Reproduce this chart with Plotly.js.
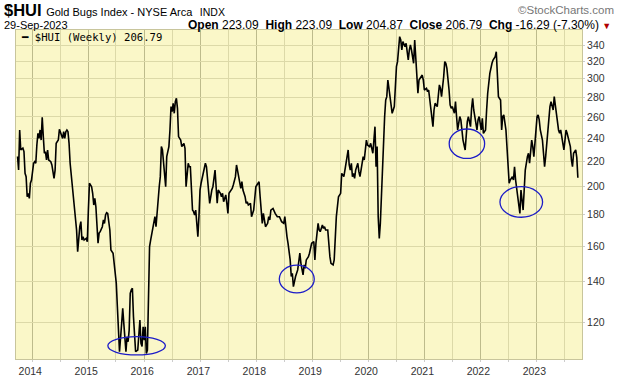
<!DOCTYPE html>
<html>
<head>
<meta charset="utf-8">
<script src="https://cdn.plot.ly/plotly-3.0.1.min.js"></script>
<style>
html,body{margin:0;padding:0;background:#fff;}
#chart{width:620px;height:376px;}
</style>
</head>
<body>
<div id="chart"></div>
<script>
// Weekly closes of $HUI, indexed by week number since the first bar (27-Sep-2013)
const startDate = '2013-09-27';
const weekNo = [0,1,2,3,5,6,7,8,9,10,11,12,13,15,16,17,18,19,20,21,22,23,24,25,26,27,28,29,31,32,34,35,36,38,39,41,42,43,44,45,46,47,48,49,51,52,53,54,55,56,57,58,59,60,61,62,64,65,66,67,69,70,71,72,73,75,76,77,79,80,81,82,83,84,86,87,89,90,92,93,94,95,97,98,99,100,101,102,103,104,105,106,107,108,109,110,112,113,114,115,116,117,118,119,120,121,122,123,124,125,126,127,128,129,130,131,132,133,134,135,136,137,138,139,140,141,142,143,144,145,146,147,148,149,150,152,153,154,155,156,157,159,160,161,162,163,164,165,166,167,168,169,170,171,173,175,176,178,179,181,182,184,185,186,187,189,190,191,192,194,195,196,197,198,200,201,203,204,205,207,208,209,210,212,213,214,215,217,218,220,221,222,223,225,226,227,228,229,230,231,233,234,235,236,238,239,240,242,244,246,248,249,250,251,252,254,255,256,257,258,259,261,262,263,264,266,267,268,269,271,272,273,274,276,277,278,279,280,281,282,284,285,286,287,289,290,291,292,294,295,296,297,299,300,301,302,304,305,306,307,308,309,310,311,312,313,314,315,317,318,319,320,322,323,324,325,326,328,329,330,331,332,333,334,335,336,337,338,339,340,341,342,343,344,345,346,347,348,349,351,352,353,354,355,356,357,358,359,360,361,362,364,365,366,367,369,370,371,372,373,374,376,377,378,379,381,382,383,384,386,387,388,389,391,392,393,394,395,397,398,399,400,402,403,404,405,407,408,409,410,412,413,414,415,417,418,419,420,422,423,424,425,427,428,429,430,432,433,434,436,437,438,440,441,442,443,445,446,447,448,450,451,452,453,455,456,457,458,459,461,462,463,464,466,467,468,469,470,471,472,473,475,476,477,479,480,481,482,484,485,486,487,489,490,491,492,494,495,496,497,499,500,501,502,504,505,506,507,509,510,511,512,514,515,516,517,518,520,521,522];
const hui = [224.0,212.9,247.5,229.6,231.1,228.2,210.3,207.7,192.6,195.1,191.4,202.6,205.1,218.4,219.7,218.4,233.9,244.4,239.8,247.5,238.3,259.6,241.4,226.8,228.2,221.1,229.6,221.1,219.7,217.0,206.4,212.9,235.4,238.3,248.1,242.9,239.8,245.9,239.8,245.9,247.5,245.9,235.4,218.4,202.6,190.2,187.8,180.9,170.0,156.7,165.8,172.1,175.4,163.7,165.8,163.7,164.7,162.7,183.2,202.6,200.0,195.1,186.7,191.4,185.5,161.7,168.0,168.9,172.1,176.5,174.2,179.8,181.4,180.9,170.0,157.7,155.8,150.0,139.1,127.5,116.7,107.6,119.7,126.7,119.7,111.0,107.6,113.8,111.7,116.7,134.0,135.7,136.6,122.8,112.4,107.6,108.3,116.7,121.2,111.0,109.7,118.2,112.4,118.2,106.9,108.3,132.4,159.7,163.7,167.9,172.1,175.4,178.7,172.1,180.9,195.1,200.0,207.7,232.5,229.6,221.1,212.9,200.0,223.9,229.6,232.5,247.5,270.2,265.2,273.6,263.5,275.3,278.7,268.5,241.4,238.3,232.5,233.9,235.4,231.0,200.0,218.4,215.6,215.6,200.0,183.2,182.1,179.8,183.2,174.3,165.8,178.7,197.5,202.6,210.3,218.4,215.6,200.0,187.9,197.5,200.0,212.9,200.0,187.9,197.5,195.1,192.6,195.1,189.0,193.9,187.9,180.9,195.1,196.3,198.7,201.3,207.7,217.0,212.9,202.6,198.7,203.8,197.5,192.6,187.9,189.0,186.7,187.9,178.7,183.2,192.6,200.0,201.3,203.8,192.6,178.7,174.3,180.9,175.4,172.1,174.3,178.7,176.5,183.2,184.3,182.1,180.9,178.7,178.7,175.4,174.3,178.7,171.0,165.8,161.7,151.9,142.7,144.5,137.4,140.9,142.7,146.3,150.0,155.8,150.0,143.6,149.1,147.2,151.9,153.8,155.8,158.7,161.7,162.7,151.9,161.7,170.0,174.3,170.0,168.9,173.2,171.0,172.1,170.0,170.0,160.7,153.8,150.0,149.1,151.9,165.8,178.7,192.6,193.9,195.1,210.3,207.7,212.9,219.7,223.9,229.6,217.0,212.9,218.4,207.7,210.3,206.4,212.9,218.4,211.6,207.7,212.9,223.9,221.1,228.2,238.3,233.9,232.5,235.4,231.0,226.8,238.3,250.6,215.6,232.5,178.7,164.7,174.3,195.1,212.9,235.4,260.3,277.0,280.5,298.6,287.6,280.0,266.8,263.5,270.2,294.9,313.9,319.9,342.7,351.4,347.0,334.2,344.9,340.6,338.4,342.7,321.9,334.2,340.6,334.2,317.9,347.0,326.0,310.0,284.1,298.6,302.3,304.2,298.6,287.6,289.4,285.8,287.6,277.0,263.5,250.6,266.8,273.6,270.2,282.2,293.1,289.4,280.5,302.3,319.9,317.9,311.9,287.6,271.9,268.5,270.2,263.5,275.3,260.3,247.5,260.3,257.0,247.5,238.3,229.6,244.4,255.4,260.3,250.6,268.5,278.7,266.8,250.6,247.5,257.0,260.3,247.5,258.6,244.4,247.5,266.8,284.1,306.2,313.9,317.9,321.9,326.0,332.1,306.2,280.5,277.0,247.5,260.3,261.9,247.5,232.5,215.6,202.6,205.1,207.7,205.1,215.6,205.1,192.6,190.2,180.9,197.5,187.9,183.2,197.5,212.9,223.9,226.8,218.4,238.3,232.5,223.9,235.4,260.3,261.9,257.0,247.5,238.3,226.8,215.6,223.9,250.6,260.3,270.2,275.3,266.8,280.5,273.6,263.5,247.5,244.4,247.5,241.4,229.6,238.3,247.5,244.4,235.4,232.5,221.1,215.6,226.8,229.6,223.08,206.79];
const yTicks = [120,140,160,180,200,220,240,260,280,300,320,340];
// Circled lows: [start date, end date, low value, high value]
const circles = [
  ['2015-05-09','2016-05-18',106.3,113.9],
  ['2018-05-31','2019-01-14',134.2,149.0],
  ['2021-06-12','2022-01-29',222.4,248.4],
  ['2022-05-09','2023-02-11',178.3,200.0]
];

const t0 = Date.parse(startDate + 'T00:00:00Z');
const dates = weekNo.map(w => new Date(t0 + w*7*86400000).toISOString().slice(0,10));

const trace = {
  x: dates, y: hui, type: 'scatter', mode: 'lines',
  line: {color: '#000000', width: 1.6},
  hoverinfo: 'x+y', showlegend: false
};

const W = 620, H = 376, L = 16, R = 38, T = 30, B = 17;
const pw = W - L - R, ph = H - T - B;
const px = v => (v - L) / pw;
const py = v => (H - B - v) / ph;
const F = 'Liberation Sans, Arial, sans-serif';

const annotations = [
  {xref:'paper', yref:'paper', x:px(2), y:py(10), xanchor:'left', yanchor:'middle', showarrow:false,
   text:'<b>$HUI</b> <span style="font-size:11px">Gold Bugs Index - NYSE Arca</span> <span style="font-size:10.5px">\u00a0INDX</span>',
   font:{family:F, size:16.5, color:'#000'}},
  {xref:'paper', yref:'paper', x:px(616), y:py(10), xanchor:'right', yanchor:'middle', showarrow:false,
   text:'\u00a9StockCharts.com', font:{family:F, size:11.5, color:'#777'}},
  {xref:'paper', yref:'paper', x:px(2), y:py(25), xanchor:'left', yanchor:'middle', showarrow:false,
   text:'29-Sep-2023', font:{family:F, size:11, color:'#000'}},
  {xref:'paper', yref:'paper', x:px(613), y:py(25), xanchor:'right', yanchor:'middle', showarrow:false,
   text:'<b>Open</b> 223.09\u00a0 <b>High</b> 223.09\u00a0 <b>Low</b> 204.87\u00a0 <b>Close</b> 206.79\u00a0 <b>Chg</b> -16.29 (-7.30%) <span style="color:#b00000;font-size:9px">\u25BC</span>',
   font:{family:F, size:12, color:'#000'}},
  {xref:'paper', yref:'paper', x:px(19), y:py(37), xanchor:'left', yanchor:'middle', showarrow:false,
   text:'\u2501 $HUI (Weekly) 206.79', font:{family:'DejaVu Sans Mono, monospace', size:10.6, color:'#000'}}
];

const shapes = circles.map(c => ({
  type:'circle', xref:'x', yref:'y', x0:c[0], x1:c[1], y0:c[2], y1:c[3],
  line:{color:'#1c1cc8', width:1.3}, layer:'above'
}));

const layout = {
  width: W, height: H,
  margin: {l: L, r: R, t: T, b: B, pad: 0},
  paper_bgcolor: '#ffffff',
  plot_bgcolor: '#faf7c8',
  showlegend: false,
  xaxis: {
    type: 'date',
    range: ['2013-09-17', '2023-10-26'],
    tick0: '2014-01-01', dtick: 'M12', tickformat: '%Y',
    showgrid: true, gridcolor: '#bdbb8c', gridwidth: 1,
    minor: {tick0: '2014-01-01', dtick: 'M6', showgrid: true, gridcolor: '#dcd9a8', gridwidth: 1,
            ticks: 'outside', ticklen: 2, tickcolor: '#cccccc'},
    ticks: 'outside', ticklen: 2, tickcolor: '#cccccc',
    showline: true, linecolor: '#c8c59c', linewidth: 1, mirror: true,
    zeroline: false,
    tickfont: {family: F, size: 10.5, color: '#333'},
    ticklabelshift: -2
  },
  yaxis: {
    type: 'log', side: 'right',
    range: [Math.log10(104.7), Math.log10(360.3)],
    tickmode: 'array', tickvals: yTicks, ticktext: yTicks.map(String),
    showgrid: true, gridcolor: '#dcd9a8', gridwidth: 1,
    ticks: 'outside', ticklen: 2, tickcolor: '#cccccc',
    showline: true, linecolor: '#c8c59c', linewidth: 1, mirror: true,
    zeroline: false,
    tickfont: {family: F, size: 10.5, color: '#333'}
  },
  annotations: annotations,
  shapes: shapes
};

Plotly.newPlot('chart', [trace], layout, {displayModeBar: false, staticPlot: true});
</script>
</body>
</html>
